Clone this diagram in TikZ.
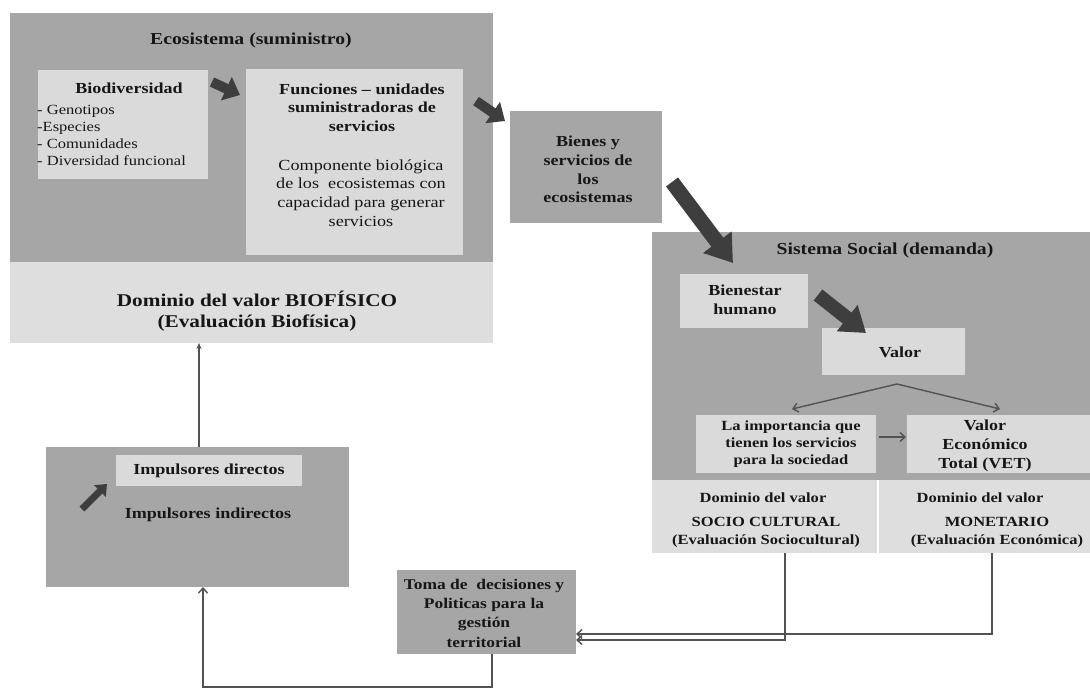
\documentclass[tikz,border=0pt]{standalone}
\usepackage{fontspec}
\setmainfont[FakeStretch=1.18]{Liberation Serif}
\usetikzlibrary{arrows.meta,calc}
\definecolor{boxdark}{RGB}{166,166,166}
\definecolor{boxlight}{RGB}{218,218,218}
\definecolor{striplight}{RGB}{222,222,222}
\definecolor{arrdark}{RGB}{62,62,62}
\definecolor{linegray}{RGB}{82,82,82}
\definecolor{inkc}{RGB}{22,22,22}
\newcommand\fsHuge{\fontsize{18}{21.6}\selectfont\bfseries}
\newcommand\fsBig{\fontsize{16.7}{20}\selectfont\bfseries}
\newcommand\fsMid{\fontsize{15.3}{18.7}\selectfont\bfseries}
\newcommand\fsBody{\fontsize{15.4}{18.7}\selectfont}
\newcommand\fsList{\fontsize{14}{17}\selectfont}
\newcommand\fsSmall{\fontsize{14}{17}\selectfont\bfseries}
\newcommand\fsDom{\fontsize{14}{18}\selectfont\bfseries}
\newcommand\fsToma{\fontsize{14.8}{19.3}\selectfont\bfseries}
\begin{document}
\begin{tikzpicture}[x=1pt,y=-1pt,
  darkbox/.style={fill=boxdark,draw=none,inner sep=0pt,outer sep=0pt,anchor=north west},
  lightbox/.style={fill=boxlight,draw=none,inner sep=0pt,outer sep=0pt,anchor=north west},
  stripbox/.style={fill=striplight,draw=none,inner sep=0pt,outer sep=0pt,anchor=north west},
  txt/.style={inner sep=0pt,align=center,text=inkc},
  fat/.style={draw=arrdark,line width=#1},
  thinline/.style={draw=linegray,line width=1.4pt},
  barb/.style={-{Straight Barb[length=5pt,width=9pt]}},
]
\useasboundingbox (0,0) rectangle (1090,689);
\fill[white] (0,0) rectangle (1090,689);

% ---------- Ecosistema ----------
\node[darkbox,minimum width=483,minimum height=249] (eco) at (10,13) {};
\node[stripbox,minimum width=483,minimum height=81] (biof) at (10,262) {};
\node[txt,font=\fsBig] (ecoT) at (251,40) {Ecosistema (suministro)};
\node[lightbox,minimum width=170,minimum height=109] (bio) at (38,70) {};
\node[txt,font=\fsMid] (bioT) at (129,88) {Biodiversidad};
\node[txt,font=\fsList,align=left,anchor=west] (bioL) at (37,135) {- Genotipos\\-Especies\\- Comunidades\\- Diversidad funcional};
\node[lightbox,minimum width=217,minimum height=186] (fun) at (246,69) {};
\node[txt,font=\fsMid] (funT) at (362,107.5) {Funciones – unidades\\suministradoras de\\servicios};
\node[txt,font=\fsBody] (funB) at (361,193) {Componente biológica\\de los\ \ ecosistemas con\\capacidad para generar\\servicios};
\node[txt,font=\fsHuge] (biofT) at (257,311) {Dominio del valor BIOFÍSICO\\(Evaluación Biofísica)};

% ---------- Bienes ----------
\node[darkbox,minimum width=152,minimum height=112] (bienes) at (510,111) {};
\node[txt,font=\fsMid] (bienesT) at (588,169.5) {Bienes y\\servicios de\\los\\ecosistemas};

% ---------- Sistema social ----------
\node[darkbox,minimum width=438,minimum height=248] (soc) at (652,232) {};
\node[txt,font=\fsBig] (socT) at (885,250) {Sistema Social (demanda)};
\node[lightbox,minimum width=128,minimum height=54] (bien) at (680,274) {};
\node[txt,font=\fsMid] (bienT) at (745,299.5) {Bienestar\\humano};
\node[lightbox,minimum width=143,minimum height=47] (valor) at (822,328) {};
\node[txt,font=\fsMid] (valorT) at (900,352) {Valor};
\node[lightbox,minimum width=180,minimum height=58] (impo) at (696,415) {};
\node[txt,font=\fsSmall] (impoT) at (791,444) {La importancia que\\tienen los servicios\\para la sociedad};
\node[lightbox,minimum width=183,minimum height=58] (vet) at (907,415) {};
\node[txt,font=\fsMid] (vetT) at (985,446) {Valor\\Económico\\Total (VET)};
\node[stripbox,minimum width=225,minimum height=73] (socio) at (652,480) {};
\node[stripbox,minimum width=211,minimum height=73] (mon) at (879,480) {};
\node[txt,font=\fsDom] (socioA) at (763,498) {Dominio del valor};
\node[txt,font=\fsDom] (socioB) at (766,532) {SOCIO CULTURAL\\(Evaluación Sociocultural)};
\node[txt,font=\fsDom] (monA) at (980,498) {Dominio del valor};
\node[txt,font=\fsDom] (monB) at (997,532) {MONETARIO\\(Evaluación Económica)};

% ---------- Impulsores ----------
\node[darkbox,minimum width=303,minimum height=140] (impul) at (46,447) {};
\node[lightbox,minimum width=186,minimum height=31] (impdir) at (116,455) {};
\node[txt,font=\fsMid] (impdirT) at (209,471) {Impulsores directos};
\node[txt,font=\fsMid] (impindT) at (208,515) {Impulsores indirectos};

% ---------- Toma de decisiones ----------
\node[darkbox,minimum width=179,minimum height=84] (toma) at (397,570) {};
\node[txt,font=\fsToma] (tomaT) at (484,613) {Toma de\ \ decisiones y\\Politicas para la\\gestión\\territorial};

% ---------- fat arrows ----------
\coordinate (a1s) at ($(bio.north east)+(4,12)$);
\coordinate (a1e) at ($(fun.north west)+(-6,26)$);
\draw[fat=10pt,-{Triangle[length=15pt,width=25pt]}] (a1s) -- (a1e);
\coordinate (a2s) at ($(eco.north east)+(-17,88)$);
\coordinate (a2e) at ($(bienes.north west)+(-5,10)$);
\draw[fat=10pt,-{Triangle[length=15pt,width=25pt]}] (a2s) -- (a2e);
\coordinate (a3s) at ($(bienes.east)+(10,15)$);
\coordinate (a3e) at ($(soc.north west)+(81,31)$);
\draw[fat=15pt,-{Triangle[length=26pt,width=34pt]}] (a3s) -- (a3e);
\coordinate (a4s) at ($(bien.east)+(10,-6)$);
\coordinate (a4e) at ($(valor.north west)+(44,5)$);
\draw[fat=14pt,-{Triangle[length=24pt,width=32pt]}] (a4s) -- (a4e);
\coordinate (a5s) at ($(impul.west)+(36,-8)$);
\coordinate (a5e) at ($(impdir.west)+(-9,13.5)$);
\draw[fat=7pt,-{Triangle[length=10pt,width=16pt]}] (a5s) -- (a5e);

% ---------- thin connectors ----------
\coordinate (impTop) at ($(impul.north)+(1.5,0)$);
\draw[thinline,-{Stealth[length=6pt,width=5pt]}] (impTop) -- (impTop |- biof.south);
\coordinate (apex) at ($(valor.south)+(3.5,9)$);
\draw[thinline,barb] (apex) -- ($(impo.north)+(6,-6)$);
\draw[thinline,barb] (apex) -- ($(vet.north)+(1.5,-6)$);
\draw[thinline,barb] ($(impo.east)+(3,-7)$) -- ($(vet.west)+(-1,-7)$);
\draw[thinline,barb] ($(socio.south)+(20.5,0)$) |- ($(toma.east)+(0,28)$);
\draw[thinline,barb] ($(mon.south)+(7.5,0)$) |- ($(toma.east)+(0,22)$);
\draw[thinline,barb] ($(toma.south)+(5.5,0)$) -- ++(0,33) -| ($(impul.south)+(5.5,0)$);
\end{tikzpicture}
\end{document}
